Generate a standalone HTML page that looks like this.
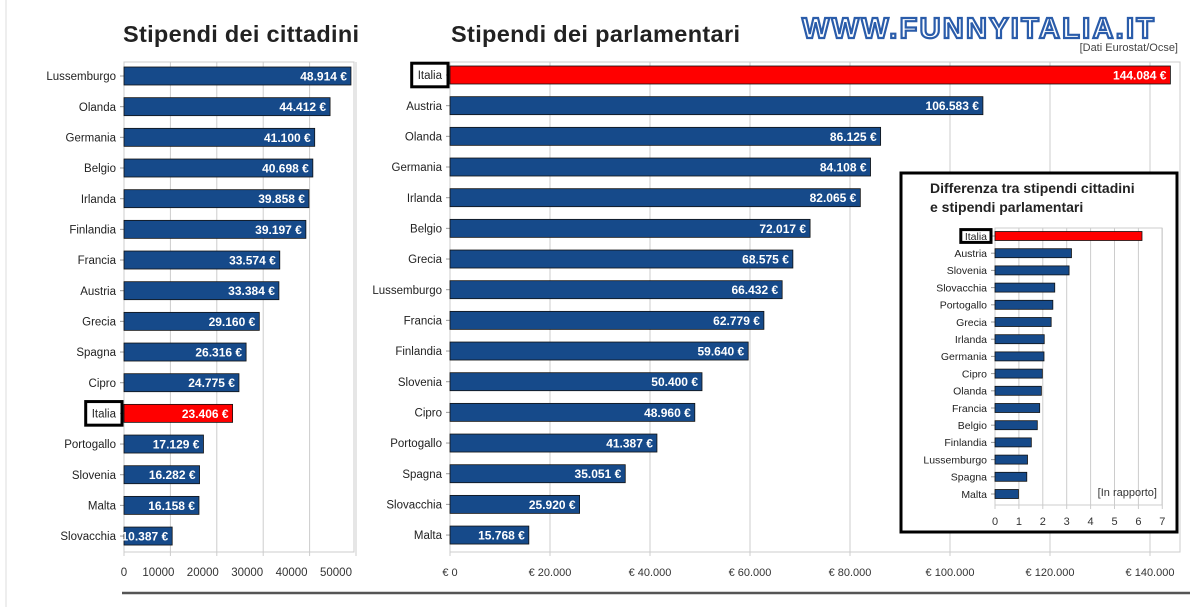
<!DOCTYPE html>
<html><head><meta charset="utf-8"><style>
body{margin:0;background:#fff;width:1200px;height:607px;overflow:hidden;font-family:"Liberation Sans",sans-serif}
svg{position:absolute;left:0;top:0}
</style></head><body>
<svg id="s" width="1200" height="607">
<line x1="6" y1="0" x2="6" y2="607" stroke="#ddd"/>
<text x="123" y="42" font-size="23.5" font-weight="bold" fill="#222" textLength="236">Stipendi dei cittadini</text>
<text x="451" y="42" font-size="23.5" font-weight="bold" fill="#222" textLength="289">Stipendi dei parlamentari</text>
<text x="802" y="38" font-size="29" font-weight="bold" fill="#fff" stroke="#2a5caa" stroke-width="2.2" textLength="352">WWW.FUNNYITALIA.IT</text>
<text x="1178" y="51" font-size="11" fill="#444" text-anchor="end">[Dati Eurostat/Ocse]</text>
<line x1="122" y1="593" x2="1190" y2="593" stroke="#555" stroke-width="2.5"/>
<g id="left"></g>
<g id="right"></g>
<g id="inset"></g>
</svg>
<script>
const citCats=["Lussemburgo","Olanda","Germania","Belgio","Irlanda","Finlandia","Francia","Austria","Grecia","Spagna","Cipro","Italia","Portogallo","Slovenia","Malta","Slovacchia"];
const citVals=[48914,44412,41100,40698,39858,39197,33574,33384,29160,26316,24775,23406,17129,16282,16158,10387];
const citTicks=[0,10000,20000,30000,40000,50000];
const parCats=["Italia","Austria","Olanda","Germania","Irlanda","Belgio","Grecia","Lussemburgo","Francia","Finlandia","Slovenia","Cipro","Portogallo","Spagna","Slovacchia","Malta"];
const parVals=[144084,106583,86125,84108,82065,72017,68575,66432,62779,59640,50400,48960,41387,35051,25920,15768];
const parTicks=[0,20000,40000,60000,80000,100000,120000,140000];
const parTickLabels=["€ 0","€ 20.000","€ 40.000","€ 60.000","€ 80.000","€ 100.000","€ 120.000","€ 140.000"];
const ratCats=["Italia","Austria","Slovenia","Slovacchia","Portogallo","Grecia","Irlanda","Germania","Cipro","Olanda","Francia","Belgio","Finlandia","Lussemburgo","Spagna","Malta"];
const ratVals=[6.15,3.2,3.1,2.5,2.42,2.35,2.06,2.05,1.98,1.94,1.87,1.77,1.52,1.36,1.33,0.98];
const ratTicks=[0,1,2,3,4,5,6,7];

const NS="http://www.w3.org/2000/svg";
function mk(p,tag,a,txt){const e=document.createElementNS(NS,tag);for(const k in a)e.setAttribute(k,a[k]);if(txt!==undefined)e.textContent=txt;p.appendChild(e);return e;}
function fmt(v){return v.toLocaleString('de-DE')+" €";}

function chart(g,o){
  const x=v=>o.x0+v*o.k;
  const y=i=>o.y0+i*o.step;
  mk(g,'rect',{x:o.x0,y:o.top,width:o.right-o.x0,height:o.bot-o.top,fill:'none',stroke:'#ccc'});
  o.ticks.forEach((t,i)=>{
    const gl=mk(g,'line',{x1:x(t),y1:o.top,x2:x(t),y2:o.bot+4,stroke:'#ccc'});
    
    const tl=mk(g,'text',{x:x(t)+(o.tdx?o.tdx[i]:0),y:o.ty,'font-size':o.tfs,'text-anchor':'middle',fill:'#333'},o.tlabels?o.tlabels[i]:String(t));
    
  });
  o.cats.forEach((c,i)=>{
    const it=c==="Italia";
    const cy=y(i);
    mk(g,'line',{x1:o.x0-4,y1:cy,x2:o.x0,y2:cy,stroke:'#999'});
    const lb=mk(g,'text',{x:o.x0-8,y:cy+o.lfs*0.36,'font-size':o.lfs,'text-anchor':'end',fill:'#222'},c);
    
    if(it){const w=lb.getComputedTextLength()+o.pad*2;const bx=mk(g,'rect',{x:o.x0-8+o.pad-w,y:cy-o.bh*0.6-1,width:w,height:o.bh*1.2+2,fill:'none',stroke:'#000','stroke-width':3});
      }
    const b=mk(g,'rect',{x:o.x0,y:cy-o.bh/2,width:x(o.vals[i])-o.x0,height:o.bh,fill:it?'#ff0000':'#164a8a',stroke:'#111','stroke-width':0.8});
    
    if(o.labels){const vl=mk(g,'text',{x:x(o.vals[i])-4,y:cy+4.5,'font-size':12,'font-weight':'bold','text-anchor':'end',fill:'#fff'},fmt(o.vals[i]));
      }
  });
}
chart(document.getElementById('left'),{cats:citCats,vals:citVals,ticks:citTicks,x0:124,k:0.00464,right:354,top:62,bot:552,y0:76,step:30.67,bh:18,ty:576,tfs:11.5,lfs:11.5,labels:true,pad:6,tdx:[0,-12,-14,-16,-18,-20]});
chart(document.getElementById('right'),{cats:parCats,vals:parVals,ticks:parTicks,tlabels:parTickLabels,x0:450,k:0.005,right:1180,top:62,bot:552,y0:75,step:30.67,bh:18,ty:576,tfs:11,lfs:11.5,labels:true,pad:6});
const ins=document.getElementById('inset');
mk(ins,'rect',{x:901,y:173,width:276,height:359,fill:'#fff',stroke:'#000','stroke-width':3});
const t1=mk(ins,'text',{x:930,y:193,'font-size':14,'font-weight':'bold',fill:'#222'},'Differenza tra stipendi cittadini');

const t2=mk(ins,'text',{x:930,y:212,'font-size':14,'font-weight':'bold',fill:'#222'},'e stipendi parlamentari');

chart(ins,{cats:ratCats,vals:ratVals,ticks:ratTicks,x0:995,k:23.9,right:1162,top:228,bot:505,y0:236,step:17.2,bh:9,ty:525,tfs:11,lfs:10.5,labels:false,pad:4});
const ir=mk(ins,'text',{x:1157,y:496,'font-size':11,'text-anchor':'end',fill:'#333'},'[In rapporto]');

</script>
</body></html>
